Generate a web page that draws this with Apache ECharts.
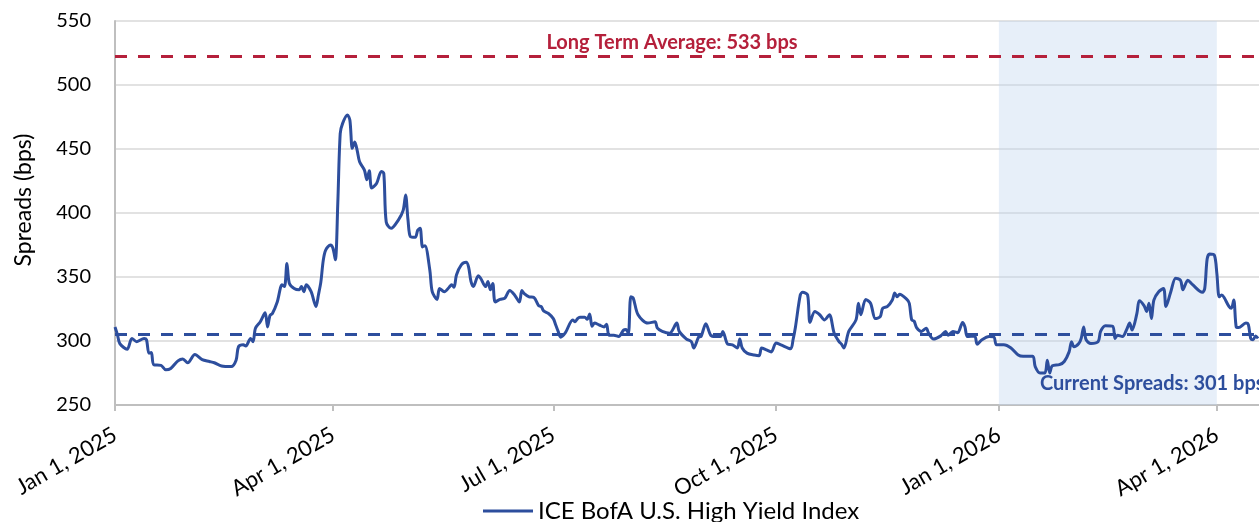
<!DOCTYPE html>
<html>
<head>
<meta charset="utf-8">
<script src="https://cdn.jsdelivr.net/npm/echarts@6/dist/echarts.min.js"></script>
<style>
  html, body { margin: 0; padding: 0; background: #fff; }
  #chart { width: 1259px; height: 522px; }
</style>
</head>
<body>
<div id="chart"></div>
<script>
// HY spread history (bps)
var spreadDates = [
  '2025-01-01','2025-01-02','2025-01-03','2025-01-06','2025-01-08','2025-01-10','2025-01-13','2025-01-14',
  '2025-01-15','2025-01-16','2025-01-17','2025-01-20','2025-01-22','2025-01-24','2025-01-27','2025-01-29',
  '2025-01-31','2025-02-03','2025-02-06','2025-02-09','2025-02-11','2025-02-14','2025-02-18','2025-02-20',
  '2025-02-21','2025-02-23','2025-02-24','2025-02-26','2025-02-27','2025-02-28','2025-03-02','2025-03-04',
  '2025-03-05','2025-03-06','2025-03-07','2025-03-09','2025-03-11','2025-03-12','2025-03-13','2025-03-14',
  '2025-03-16','2025-03-18','2025-03-19','2025-03-20','2025-03-21','2025-03-23','2025-03-25','2025-03-26',
  '2025-03-27','2025-03-28','2025-03-29','2025-03-31','2025-04-01','2025-04-02','2025-04-03','2025-04-04',
  '2025-04-05','2025-04-07','2025-04-08','2025-04-09','2025-04-10','2025-04-11','2025-04-12','2025-04-14',
  '2025-04-15','2025-04-16','2025-04-17','2025-04-19','2025-04-21','2025-04-22','2025-04-23','2025-04-25',
  '2025-04-28','2025-04-30','2025-05-01','2025-05-02','2025-05-03','2025-05-05','2025-05-06','2025-05-07',
  '2025-05-08','2025-05-09','2025-05-11','2025-05-12','2025-05-14','2025-05-15','2025-05-17','2025-05-19',
  '2025-05-20','2025-05-21','2025-05-22','2025-05-24','2025-05-26','2025-05-27','2025-05-28','2025-05-29',
  '2025-05-31','2025-06-01','2025-06-03','2025-06-04','2025-06-05','2025-06-06','2025-06-07','2025-06-09',
  '2025-06-11','2025-06-13','2025-06-15','2025-06-17','2025-06-18','2025-06-19','2025-06-21','2025-06-23',
  '2025-06-25','2025-06-26','2025-06-27','2025-06-29','2025-07-01','2025-07-02','2025-07-03','2025-07-04',
  '2025-07-06','2025-07-09','2025-07-10','2025-07-11','2025-07-12','2025-07-14','2025-07-15','2025-07-16',
  '2025-07-17','2025-07-18','2025-07-20','2025-07-22','2025-07-23','2025-07-24','2025-07-26','2025-07-28',
  '2025-07-30','2025-07-31','2025-08-01','2025-08-02','2025-08-03','2025-08-05','2025-08-09','2025-08-12',
  '2025-08-13','2025-08-15','2025-08-18','2025-08-21','2025-08-22','2025-08-25','2025-08-27','2025-08-28',
  '2025-08-30','2025-08-31','2025-09-02','2025-09-04','2025-09-06','2025-09-08','2025-09-09','2025-09-11',
  '2025-09-13','2025-09-15','2025-09-16','2025-09-17','2025-09-19','2025-09-22','2025-09-24','2025-09-25',
  '2025-09-27','2025-09-29','2025-10-01','2025-10-03','2025-10-07','2025-10-08','2025-10-09','2025-10-11',
  '2025-10-12','2025-10-14','2025-10-15','2025-10-17','2025-10-19','2025-10-21','2025-10-23','2025-10-25',
  '2025-10-27','2025-10-28','2025-10-29','2025-10-31','2025-11-03','2025-11-04','2025-11-05','2025-11-07',
  '2025-11-09','2025-11-11','2025-11-13','2025-11-14','2025-11-16','2025-11-18','2025-11-19','2025-11-20',
  '2025-11-21','2025-11-24','2025-11-25','2025-11-26','2025-11-27','2025-11-28','2025-11-30','2025-12-02',
  '2025-12-03','2025-12-05','2025-12-08','2025-12-10','2025-12-11','2025-12-13','2025-12-15','2025-12-17',
  '2025-12-18','2025-12-19','2025-12-22','2025-12-23','2025-12-25','2025-12-28','2025-12-30','2025-12-31',
  '2026-01-03','2026-01-06','2026-01-09','2026-01-11','2026-01-15','2026-01-16','2026-01-18','2026-01-20',
  '2026-01-21','2026-01-22','2026-01-23','2026-01-26','2026-01-28','2026-01-30','2026-01-31','2026-02-01',
  '2026-02-03','2026-02-04','2026-02-05','2026-02-06','2026-02-08','2026-02-11','2026-02-12','2026-02-14',
  '2026-02-17','2026-02-18','2026-02-19','2026-02-21','2026-02-23','2026-02-24','2026-02-25','2026-02-27',
  '2026-02-28','2026-03-02','2026-03-03','2026-03-04','2026-03-05','2026-03-06','2026-03-08','2026-03-10',
  '2026-03-11','2026-03-13','2026-03-15','2026-03-17','2026-03-18','2026-03-20','2026-03-22','2026-03-26',
  '2026-03-27','2026-03-28','2026-03-29','2026-03-31','2026-04-01','2026-04-02','2026-04-03','2026-04-04',
  '2026-04-06','2026-04-07','2026-04-08','2026-04-09','2026-04-10','2026-04-13','2026-04-14','2026-04-15',
  '2026-04-16','2026-04-17','2026-04-18'
];
var spreadValues = [
  311,305,298,293.5,302,299.5,302,301,
  290.5,291,281.5,281,277.5,278.5,284.5,286,
  283,289.5,285.5,284,283,280.5,280,285,
  295.5,297,296,302,299.5,310,315,322,
  311,320,321.5,330.5,344,342.5,360.5,345,
  341,340,342.5,338.5,344,338.5,327,336,
  346,363,371,375,372.5,363.5,407.5,462,
  470,476.5,472.5,450.5,455.5,449,440,433.5,
  426,433,419.5,423,432.5,431,393,388,
  394.5,402,414,394.5,381.5,381,386.5,388,
  373.5,374.5,355.5,338.5,332.5,341,338.5,342,
  344,342,351.5,359.5,361.5,358,346.5,342.5,
  351,349,342.5,346.5,340,345,330.5,332.5,
  333.5,339.5,336,330.5,339.5,337,334.5,334,
  327.5,327,323.5,321.5,317.5,312.5,307.5,303,
  306.5,316.5,315,317.5,318.5,318.5,317,321,
  311.5,314,312.5,311,313,304.5,304.5,303.5,
  308.5,309,306,334.5,333.5,320.5,314,315,
  310,307.5,306,314,307.5,301.5,299.5,294.5,
  303,303.5,313.5,304.5,303.5,303.5,307.5,297.5,
  297,294.5,301.5,294.5,290.5,289,288.5,294.5,
  293,291.5,298.5,297,294,301,311,336,
  338,336,314.5,323,320.5,316.5,320.5,306,
  299.5,297.5,294.5,307.5,316.5,329.5,320.5,332.5,
  329.5,317.5,319,325.5,327,332,337.5,334.5,
  336.5,332.5,329.5,316.5,315.5,310.5,307.5,310,
  306,301.5,304,307.5,304.5,307.5,306.5,314.5,
  311,303.5,304,297.5,301,303.5,303,297,
  297,294.5,289,288,288,280,275,275,
  285,275,280.5,281.5,284,291.5,299.5,295.5,
  298,302,311,301,298,299.5,307.5,312,
  311.5,302,304.5,303.5,310,314,308.5,321.5,
  331.5,327.5,323,329.5,317.5,332,338.5,341,
  327,338.5,349,347.5,340,347.5,344,338,
  341,364,368,367,353,334.5,336,334,
  327,325.5,332,311,310.5,314,313,302,
  301,304,302
];
var yTicks = [250, 300, 350, 400, 450, 500, 550];
var quarterTicks = ['2025-01-01', '2025-04-01', '2025-07-01', '2025-10-01', '2026-01-01', '2026-04-01'];
var axisEnd = '2026-04-18 10:00';
var longTermAvgLine = 522.5;   // where the red dashed line sits on the chart
var currentSpreadLine = 305;   // where the blue dashed line sits
var shadedRange = ['2026-01-01', '2026-04-01'];
var seriesName = 'ICE BofA U.S. High Yield Index';
var longTermLabel = 'Long Term Average: 533 bps';
var currentLabel = 'Current Spreads: 301 bps';

var monthNames = ['Jan','Feb','Mar','Apr','May','Jun','Jul','Aug','Sep','Oct','Nov','Dec'];
function ts(s) { return +echarts.time.parse(s); }
function fmtDate(v) {
  var d = new Date(v);
  return monthNames[d.getMonth()] + ' ' + d.getDate() + ', ' + d.getFullYear();
}

var blue = '#2D4E9D';
var red = '#B5203B';
var font = 'Lato';
var tickTs = quarterTicks.map(ts);

var chart = echarts.init(document.getElementById('chart'));

var option = {
  animation: false,
  backgroundColor: '#fff',
  textStyle: { fontFamily: font },
  grid: { left: 115, right: 0, top: 21, bottom: 117, containLabel: false },
  legend: {
    left: 478,
    top: 494,
    icon: 'rect',
    itemWidth: 50,
    itemHeight: 3,
    itemGap: 6,
    textStyle: { fontFamily: font, fontSize: 24, color: '#000' },
    data: [seriesName]
  },
  xAxis: {
    type: 'value',
    min: ts(quarterTicks[0]),
    max: ts(axisEnd),
    axisLine: { lineStyle: { color: '#bfbfbf', width: 2 } },
    axisTick: {
      show: true,
      length: 6,
      lineStyle: { color: '#bfbfbf', width: 2 },
      customValues: tickTs
    },
    axisLabel: {
      rotate: 30,
      margin: 28,
      fontFamily: font,
      fontSize: 22,
      color: '#000',
      customValues: tickTs,
      formatter: function (v) { return fmtDate(v); }
    },
    splitLine: { show: false }
  },
  yAxis: {
    type: 'value',
    min: yTicks[0],
    max: yTicks[yTicks.length - 1],
    interval: 50,
    name: 'Spreads (bps)',
    nameLocation: 'middle',
    nameGap: 80,
    nameTextStyle: { fontFamily: font, fontSize: 23, color: '#000', padding: [0, 0, 0, 26] },
    axisLine: { show: true, lineStyle: { color: '#bfbfbf', width: 2 } },
    axisTick: { show: false },
    axisLabel: { fontFamily: font, fontSize: 20, color: '#000', margin: 24 },
    splitLine: { lineStyle: { color: '#d9d9d9', width: 1.5 } }
  },
  series: [
    {
      name: seriesName,
      type: 'line',
      data: spreadDates.map(function (d, i) { return [ts(d), spreadValues[i]]; }),
      symbol: 'none',
      smooth: 0.3,
      lineStyle: { color: blue, width: 3 },
      itemStyle: { color: blue },
      z: 3,
      markArea: {
        silent: true,
        itemStyle: { color: 'rgba(196, 216, 240, 0.4)' },
        data: [[{ xAxis: ts(shadedRange[0]) }, { xAxis: ts(shadedRange[1]) }]]
      },
      markLine: {
        silent: true,
        symbol: 'none',
        label: { show: false },
        data: [
          { yAxis: longTermAvgLine, lineStyle: { color: red, width: 3, type: [12, 11] } },
          { yAxis: currentSpreadLine, lineStyle: { color: blue, width: 3, type: [12, 11] } }
        ]
      }
    }
  ]
};

chart.setOption(option);

// annotation texts, placed relative to the dashed lines
var redY = chart.convertToPixel({ yAxisIndex: 0 }, longTermAvgLine);
var blueY = chart.convertToPixel({ yAxisIndex: 0 }, currentSpreadLine);
chart.setOption({
  graphic: [
    {
      type: 'text',
      z: 100,
      x: 672,
      y: redY - 14,
      style: { text: longTermLabel, fill: red, font: 'bold 20px ' + font, align: 'center', verticalAlign: 'middle' }
    },
    {
      type: 'text',
      z: 100,
      x: 1040,
      y: blueY + 49,
      style: { text: currentLabel, fill: blue, font: 'bold 20px ' + font, align: 'left', verticalAlign: 'middle' }
    }
  ]
});
</script>
</body>
</html>
